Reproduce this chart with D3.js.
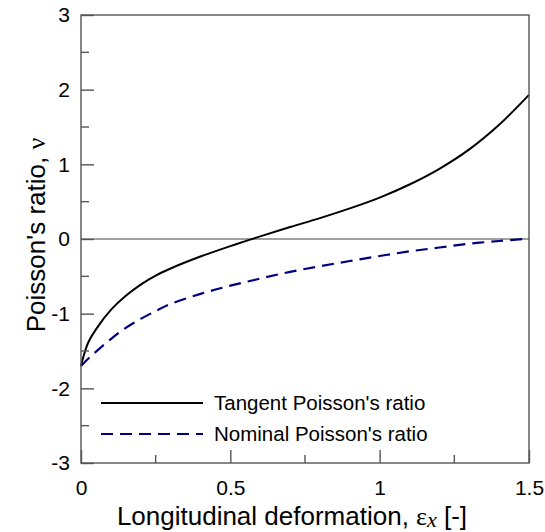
<!DOCTYPE html>
<html>
<head>
<meta charset="utf-8">
<script src="https://cdn.jsdelivr.net/npm/d3@7"></script>
<style>
  body { margin: 0; background: #fff; }
  text { font-family: "Liberation Sans", Arial, sans-serif; }
</style>
</head>
<body>
<div id="chart-area"></div>
<script>
const margin = ({top: 15, right: 15, bottom: 69, left: 81});
const width = 545, height = 532;

// strain values (x) and the two Poisson's ratio curves
const tangentX = [0, 0.01, 0.025, 0.05, 0.1, 0.15, 0.2, 0.25, 0.3, 0.4, 0.5, 0.6, 0.7, 0.8, 0.9, 1.0, 1.1, 1.2, 1.3, 1.4, 1.5];
const tangentY = [-1.70, -1.55, -1.38, -1.21, -0.95, -0.76, -0.61, -0.49, -0.395, -0.235, -0.095, 0.035, 0.16, 0.28, 0.41, 0.555, 0.73, 0.94, 1.20, 1.53, 1.93];

const nominalX = [0, 0.025, 0.05, 0.1, 0.15, 0.2, 0.25, 0.3, 0.4, 0.5, 0.6, 0.7, 0.8, 0.9, 1.0, 1.1, 1.2, 1.3, 1.4, 1.48];
const nominalY = [-1.70, -1.60, -1.51, -1.34, -1.19, -1.07, -0.965, -0.87, -0.735, -0.625, -0.53, -0.44, -0.365, -0.295, -0.228, -0.165, -0.114, -0.063, -0.027, 0.0];

const xTicks = [0, 0.5, 1, 1.5];
const xMinor = [0.25, 0.75, 1.25];
const yTicks = [-3, -2, -1, 0, 1, 2, 3];
const yMinor = [-2.5, -1.5, -0.5, 0.5, 1.5, 2.5];

const legendLabels = ["Tangent Poisson's ratio", "Nominal Poisson's ratio"];

// -----------------------------------------------------------------------------

const x = d3.scaleLinear()
    .domain([0, 1.5])
    .range([margin.left, width - margin.right - 1]);

const y = d3.scaleLinear()
    .domain([-3, 3])
    .range([height - margin.bottom, margin.top]);

const svg = d3.select("#chart-area").append("svg")
    .attr("width", width)
    .attr("height", height);

// zero line
svg.append("line")
    .attr("x1", x(0)).attr("x2", x(1.5))
    .attr("y1", y(0)).attr("y2", y(0))
    .attr("stroke", "#808080")
    .attr("stroke-width", 1.5);

const line = d3.line()
    .x(d => x(d[0]))
    .y(d => y(d[1]))
    .curve(d3.curveCatmullRom.alpha(0.5));

svg.append("path")
    .datum(d3.zip(tangentX, tangentY))
    .attr("fill", "none")
    .attr("stroke", "#000")
    .attr("stroke-width", 2)
    .attr("d", line);

svg.append("path")
    .datum(d3.zip(nominalX, nominalY))
    .attr("fill", "none")
    .attr("stroke", "#000080")
    .attr("stroke-width", 2.2)
    .attr("stroke-dasharray", "12,7")
    .attr("d", line);

// frame
svg.append("rect")
    .attr("x", x(0)).attr("y", y(3))
    .attr("width", x(1.5) - x(0))
    .attr("height", y(-3) - y(3))
    .attr("fill", "none")
    .attr("stroke", "#555")
    .attr("stroke-width", 1.4);

// axes with inward ticks
const xAxis = g => g
    .attr("transform", `translate(0,${y(-3)})`)
    .call(d3.axisBottom(x).tickValues(xTicks).tickSize(-13).tickPadding(17)
        .tickFormat(d => d))
    .call(g => g.select(".domain").remove())
    .call(g => g.selectAll(".tick line").attr("stroke", "#555").attr("stroke-width", 1.4))
    .call(g => g.selectAll(".tick text").attr("font-size", 21).attr("fill", "#000"));

const yAxis = g => g
    .attr("transform", `translate(${x(0)},0)`)
    .call(d3.axisLeft(y).tickValues(yTicks).tickSize(-13).tickPadding(11)
        .tickFormat(d => d))
    .call(g => g.select(".domain").remove())
    .call(g => g.selectAll(".tick line").attr("stroke", "#555").attr("stroke-width", 1.4))
    .call(g => g.selectAll(".tick text").attr("font-size", 21).attr("fill", "#000"));

svg.append("g").call(xAxis);
svg.append("g").call(yAxis);

svg.append("g").selectAll("line")
    .data(xMinor)
    .join("line")
    .attr("x1", d => x(d)).attr("x2", d => x(d))
    .attr("y1", y(-3)).attr("y2", y(-3) - 8)
    .attr("stroke", "#555").attr("stroke-width", 1.4);

svg.append("g").selectAll("line")
    .data(yMinor)
    .join("line")
    .attr("x1", x(0)).attr("x2", x(0) + 8)
    .attr("y1", d => y(d)).attr("y2", d => y(d))
    .attr("stroke", "#555").attr("stroke-width", 1.4);

// axis titles
const xTitle = svg.append("text")
    .attr("x", 292)
    .attr("y", 525)
    .attr("text-anchor", "middle")
    .attr("font-size", 26);
xTitle.append("tspan").text("Longitudinal deformation, ");
xTitle.append("tspan").attr("font-family", "Liberation Serif").text("ε");
xTitle.append("tspan").attr("font-family", "Liberation Serif").attr("font-style", "italic")
    .attr("font-size", 22).attr("dy", 2).text("x");
xTitle.append("tspan").attr("dy", -2).text(" [-]");

const yTitle = svg.append("text")
    .attr("transform", `translate(45,${(y(3) + y(-3)) / 2 - 4}) rotate(-90)`)
    .attr("text-anchor", "middle")
    .attr("font-size", 26);
yTitle.append("tspan").text("Poisson's ratio, ");
yTitle.append("tspan").attr("font-family", "Liberation Serif").text("ν");

// legend
const legend = svg.append("g").selectAll("g")
    .data(legendLabels)
    .join("g")
    .attr("transform", (d, i) => `translate(101,${403 + i * 31})`);

legend.append("line")
    .attr("x1", 0).attr("x2", 102)
    .attr("stroke", (d, i) => i === 0 ? "#000" : "#000080")
    .attr("stroke-width", (d, i) => i === 0 ? 2 : 2.2)
    .attr("stroke-dasharray", (d, i) => i === 0 ? null : "12,7");

legend.append("text")
    .attr("x", 113)
    .attr("dy", "0.35em")
    .attr("font-size", 20.5)
    .text(d => d);
</script>
</body>
</html>
